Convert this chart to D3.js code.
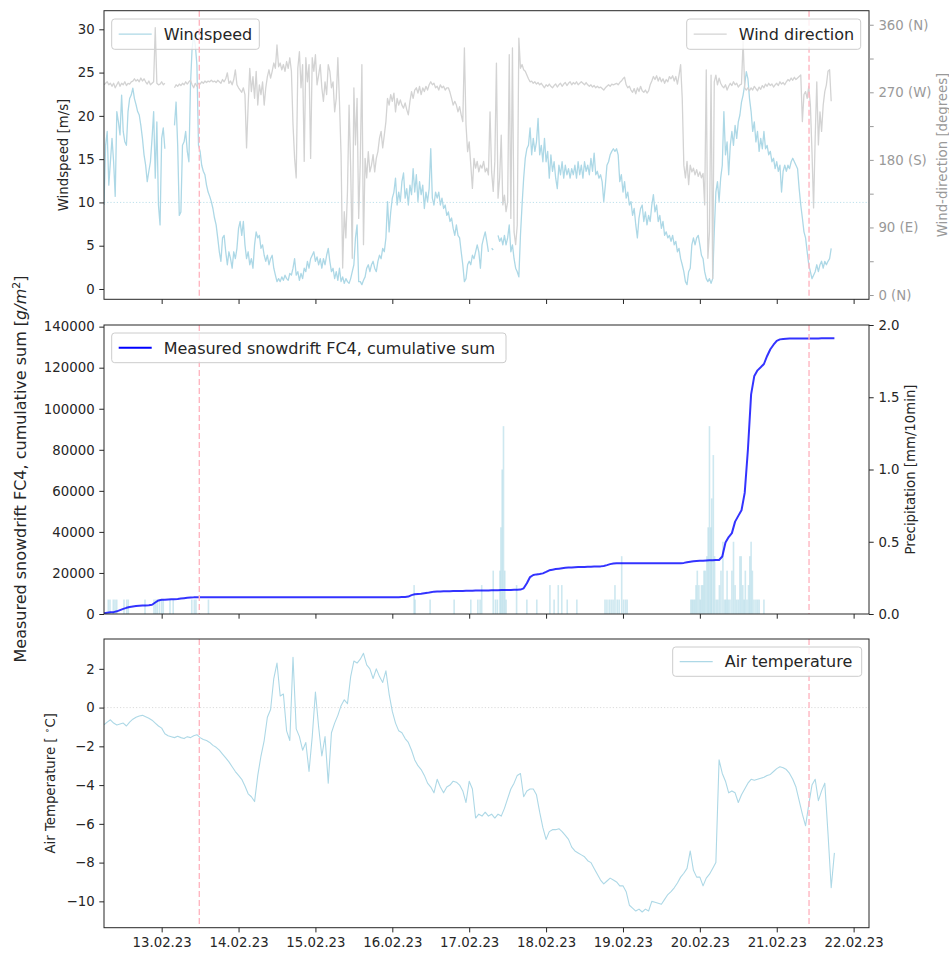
<!DOCTYPE html>
<html>
<head>
<meta charset="utf-8">
<script src="https://cdn.jsdelivr.net/npm/d3@7"></script>
<style>
  body { margin: 0; background: #fff; }
  svg { display: block; }
  text { font-family: "DejaVu Sans", sans-serif; }
</style>
</head>
<body>
<svg id="chart" width="949" height="953"></svg>
<script>
// ---------------------------------------------------------------------------
// Station record starting 12.02.2023 06:00 (null = no data)
// wind: 30-minute samples, temperature and drift: hourly samples
// ---------------------------------------------------------------------------
const seriesStart = new Date(2023, 1, 12, 6, 0);
const windStepMin = 30;
const hourlyStepMin = 60;

// wind speed [m/s], every 30 min
const windSpeed = [
  9.7, 16.6, 18.2, 12.0, 14.7, 17.4, 14.7, 10.7, 20.5, 19.3,
  17.8, 22.4, 18.2, 17.0, 16.6, 20.5, 22.0, 22.4, 23.2, 22.0,
  21.3, 20.5, 20.1, 18.9, 17.4, 15.5, 14.3, 12.4, 13.6, 14.7,
  17.4, 20.5, 12.8, 19.3, 9.7, 7.4, 17.4, 18.6, 16.2, null,
  null, null, null, null, 18.9, 21.6, 16.6, 8.5, 8.9, 16.6,
  17.0, 18.2, 15.9, 14.7, 23.6, 27.8, 29.3, 28.2, 25.9, 16.6,
  15.9, 14.3, 13.6, 13.2, 12.0, 11.2, 10.7, 10.1, 9.3, 8.2,
  7.4, 5.9, 4.3, 3.2, 5.9, 6.2, 4.3, 2.8, 4.3, 3.5,
  2.4, 4.3, 3.5, 4.7, 7.0, 7.8, 6.2, 7.8, 5.1, 3.5,
  4.3, 2.8, 3.5, 2.4, 5.1, 6.6, 5.9, 6.2, 4.7, 5.1,
  3.9, 3.2, 3.9, 2.8, 3.5, 3.9, 2.4, 1.6, 0.85, 1.2,
  0.85, 1.4, 1.0, 1.6, 1.2, 1.0, 1.8, 1.6, 2.4, 3.5,
  1.6, 2.0, 1.0, 1.8, 1.2, 2.4, 2.0, 3.2, 2.4, 3.5,
  3.9, 4.3, 3.2, 3.7, 2.8, 3.5, 2.4, 3.5, 2.8, 3.9,
  4.7, 3.2, 2.0, 2.4, 1.2, 2.0, 1.0, 2.4, 0.85, 1.4,
  0.65, 1.2, 0.85, 0.65, 1.2, 2.0, 2.8, 5.9, 7.4, 0.85,
  0.85, 0.5, 1.0, 1.4, 2.4, 2.8, 2.0, 2.8, 3.2, 2.4,
  2.0, 3.2, 3.9, 3.5, 4.7, 4.3, 5.9, 10.1, 6.6, 8.9,
  10.5, 11.2, 12.8, 9.7, 11.2, 10.1, 12.4, 13.4, 10.5, 11.6,
  9.7, 12.0, 10.9, 13.9, 11.2, 13.2, 10.1, 12.4, 10.9, 12.0,
  9.3, 11.2, 10.1, 11.6, 16.2, 10.5, 9.7, 11.2, 10.5, 11.2,
  9.7, 10.5, 9.3, 9.7, 8.5, 8.9, 7.8, 8.2, 7.0, 6.2,
  7.4, 6.2, 5.9, 4.3, 2.8, 0.85, 1.2, 2.8, 3.2, 2.8,
  3.9, 3.5, 4.3, 5.1, 4.3, 2.4, 5.1, 5.9, 6.6, 5.5,
  4.3, null, 4.7, 4.5, null, null, 6.2, 5.5, 5.9, 5.1,
  6.2, 5.1, 5.9, 7.4, 4.3, 5.1, 3.5, 2.4, 2.0, 1.4,
  6.2, 9.7, 12.8, 15.1, 16.2, 16.6, 18.6, 15.5, 17.4, 15.9,
  17.0, 19.7, 15.5, 16.6, 14.7, 17.4, 14.7, 15.9, 12.8, 15.5,
  13.6, 14.7, 12.8, 11.6, 14.3, 13.2, 14.7, 12.8, 14.3, 13.2,
  13.9, 12.8, 13.9, 13.2, 14.3, 12.8, 14.7, 13.2, 14.3, 12.8,
  14.7, 13.6, 14.3, 13.2, 15.1, 13.6, 15.7, 13.2, 13.6, 12.8,
  13.2, 12.4, 10.1, 12.0, 14.3, 14.7, 15.5, 15.9, 16.2, 15.9,
  16.2, 15.5, 12.4, 13.2, 11.2, 12.4, 10.5, 11.2, 9.7, 10.1,
  8.5, 9.3, 7.4, 5.9, 8.2, 9.3, 9.7, 7.8, 8.9, 7.4,
  8.5, 7.8, 9.7, 10.9, 8.9, 9.7, 7.8, 8.5, 7.0, 7.8,
  6.2, 6.6, 5.9, 6.2, 5.5, 6.2, 5.1, 5.5, 4.3, 4.7,
  3.5, 2.8, 2.0, 0.85, 0.5, 2.0, 2.4, 5.1, 5.9, 5.1,
  5.9, 6.2, 5.1, 3.9, 3.5, 2.0, 1.2, 0.85, 1.2, 0.65,
  1.2, 6.6, 11.2, 12.4, 10.1, 12.8, 14.3, 20.5, 15.5, 17.0,
  13.2, 16.6, 18.2, 16.6, 18.9, 17.4, 19.3, 20.1, 21.6, 22.4,
  23.6, 25.1, 24.3, 22.0, 20.5, 18.2, 19.3, 17.0, 18.2, 15.9,
  17.4, 16.2, 18.2, 16.2, 16.6, 15.5, 15.9, 14.7, 15.1, 13.9,
  14.7, 13.6, 14.3, 11.2, 13.6, 14.3, 13.6, 14.3, 13.9, 14.7,
  15.1, 14.7, 14.3, 13.9, 11.6, 9.7, 8.2, 6.6, 5.9, 4.3,
  2.8, 2.0, 1.2, 1.6, 2.0, 2.8, 2.0, 2.8, 3.2, 2.4,
  3.2, 2.8, 3.2, 3.5, 4.7
];

// wind direction [degrees], every 30 min
const windDirection = [
  280, 282, 284, 280, 282, 278, 282, 276, 280, 284,
  278, 282, 280, 284, 279, 282, 281, 284, 285, 288,
  285, 287, 284, 289, 285, 288, 284, 281, 285, 280,
  282, 284, 356, 282, 280, 281, 284, 280, 282, null,
  null, null, null, null, 276, 280, 278, 281, 279, 282,
  280, 284, 281, 284, 286, 280, 276, 282, 278, 282,
  281, 284, 282, 285, 283, 285, 284, 286, 284, 285,
  283, 286, 284, 282, 287, 284, 288, 296, 282, 285,
  280, 287, 300, 280, 276, 273, 270, 276, 267, 196,
  253, 302, 271, 291, 262, 298, 253, 280, 267, 284,
  253, 276, 291, 300, 289, 298, 309, 302, 333, 304,
  309, 300, 307, 298, 311, 302, 316, 298, 227, 182,
  156, 302, 324, 276, 307, 178, 316, 284, 307, 182,
  316, 298, 320, 280, 293, 307, 276, 258, 284, 267,
  307, 298, 276, 284, 244, 262, 316, 258, 187, 36,
  111, 76, 138, 253, 169, 49, 276, 200, 262, 102,
  178, 307, 67, 182, 156, 191, 164, 173, 187, 164,
  182, 191, 209, 218, 196, 213, 231, 262, 253, 267,
  258, 269, 244, 262, 253, 260, 253, 249, 256, 247,
  240, 258, 271, 262, 273, 276, 269, 278, 267, 276,
  271, 278, 273, 280, 284, 280, 282, 276, 278, 273,
  280, 276, 278, 273, 276, 276, 270, 262, 253, 258,
  253, 244, 251, 240, 231, 329, 227, 191, 204, 173,
  142, 182, 169, 178, 164, 173, 169, 178, 164, 169,
  160, 244, 164, 138, 178, 309, 129, 156, 213, 120,
  133, 111, 124, 320, 102, 329, 84, 67, 93, 342,
  302, 307, 300, 298, 293, 288, 284, 285, 282, 284,
  281, 283, 280, 282, 279, 276, 280, 278, 281, 278,
  276, 279, 281, 277, 280, 282, 278, 281, 283, 279,
  282, 284, 280, 283, 281, 284, 280, 282, 284, 282,
  280, 283, 280, 278, 280, 277, 279, 276, 278, 276,
  277, 275, 273, 276, 278, 280, 278, 281, 280, 281,
  282, 280, 283, 285, 288, 290, 280, 276, 278, 273,
  270, 275, 268, 276, 271, 278, 272, 270, 273, 269,
  272, 280, 285, 291, 287, 292, 285, 290, 284, 288,
  282, 287, 284, 291, 288, 292, 285, 291, 281, 293,
  307, 262, 173, 156, 178, 147, 173, 164, 169, 160,
  167, 158, 164, 156, 162, 120, 300, 49, 84, 293,
  22, 284, 293, 280, 289, 282, 278, 276, 280, 273,
  278, 282, 279, 284, 280, 282, 277, 280, 281, 338,
  276, 273, 276, 272, 276, 273, 278, 275, 272, 277,
  274, 279, 276, 281, 278, 282, 279, 281, 277, 280,
  282, 279, 284, 281, 283, 280, 284, 287, 285, 289,
  286, 290, 287, 289, 291, 293, 231, 267, 271, 262,
  278, 253, 191, 116, 209, 284, 200, 244, 218, 253,
  271, 280, 298, 300, 258
];

// air temperature [°C], hourly
const airTemperature = [
  -0.89, -0.75, -0.63, -0.8, -0.9, -0.85, -0.8, -0.95, -0.75, -0.6,
  -0.5, -0.43, -0.4, -0.47, -0.55, -0.65, -0.8, -0.95, -1.06, -1.35,
  -1.45, -1.5, -1.55, -1.48, -1.55, -1.6, -1.5, -1.55, -1.45, -1.4,
  -1.55, -1.65, -1.7, -1.8, -1.95, -2.05, -2.2, -2.4, -2.6, -2.8,
  -3.05, -3.3, -3.5, -3.7, -4.05, -4.45, -4.6, -4.85, -3.5, -2.5,
  -1.7, -0.5, -0.1, 1.5, 2.3, 0.6, 0.7, -1.2, -1.7, 2.6,
  -1.1, -1.5, -2.2, -1.8, -3.3, -1.5, 0.8, -1.0, -2.5, -1.5,
  -3.9, -1.3, -0.8, -0.4, 0.1, 0.4, 0.2, 1.6, 2.4, 2.3,
  2.5, 2.8, 2.2, 2.0, 1.5, 2.0, 1.6, 1.3, 1.9, 0.7,
  -0.2, -0.8, -1.2, -1.3, -1.6, -1.8, -2.2, -2.7, -3.0, -3.2,
  -3.5, -3.9, -4.1, -4.4, -3.7, -4.1, -4.4, -4.1, -4.0, -3.8,
  -3.85, -4.0, -4.3, -4.9, -3.8, -4.2, -5.7, -5.5, -5.6, -5.4,
  -5.6, -5.5, -5.7, -5.5, -5.6, -5.2, -4.7, -4.2, -3.9, -3.5,
  -3.4, -4.6, -4.3, -4.2, -4.2, -4.5, -5.4, -6.2, -6.8, -6.4,
  -6.3, -6.3, -6.25, -6.4, -6.6, -6.8, -7.2, -7.4, -7.5, -7.6,
  -7.7, -7.9, -8.0, -8.3, -8.6, -8.9, -9.1, -8.95, -8.8, -8.9,
  -9.0, -9.2, -9.2, -9.5, -10.2, -10.35, -10.5, -10.4, -10.55, -10.4,
  -10.5, -10.0, -10.05, -10.1, -10.15, -9.9, -9.65, -9.5, -9.3, -9.05,
  -8.75, -8.55, -8.3, -7.4, -8.4, -8.75, -8.75, -9.2, -8.8, -8.6,
  -8.3, -8.0, -2.7, -3.4, -3.8, -4.4, -4.3, -4.4, -4.9, -4.5,
  -4.2, -3.9, -3.7, -3.75, -3.7, -3.65, -3.6, -3.5, -3.45, -3.3,
  -3.15, -3.05, -3.1, -3.2, -3.4, -3.7, -4.1, -4.8, -5.5, -6.1,
  -5.0, -4.0, -3.7, -4.8, -4.3, -3.9, -6.5, -9.3, -7.5
];

// measured snowdrift FC4, cumulative sum [g/m²], hourly
const driftCumulative = [
  300, 600, 800, 900, 1300, 1900, 2500, 3000, 3400, 3700,
  3900, 4000, 4100, 4200, 4300, 4500, 5600, 6600, 6900, 7000,
  7100, 7150, 7200, 7300, 7500, 7700, 7900, 8000, 8100, 8150,
  8200, 8200, 8200, 8200, 8200, 8200, 8200, 8200, 8200, 8200,
  8200, 8200, 8200, 8200, 8200, 8200, 8200, 8200, 8200, 8200,
  8200, 8200, 8200, 8200, 8200, 8200, 8200, 8200, 8200, 8200,
  8200, 8200, 8200, 8200, 8200, 8200, 8200, 8200, 8200, 8200,
  8200, 8200, 8200, 8200, 8200, 8200, 8200, 8200, 8200, 8200,
  8200, 8200, 8200, 8200, 8200, 8200, 8200, 8200, 8200, 8200,
  8200, 8200, 8200, 8250, 8300, 8500, 9200, 9600, 9800, 9900,
  10100, 10300, 10600, 10900, 11000, 11000, 11050, 11100, 11100, 11150,
  11200, 11200, 11250, 11300, 11300, 11350, 11400, 11400, 11450, 11500,
  11500, 11550, 11600, 11600, 11650, 11700, 11700, 11750, 11800, 11800,
  11900, 12500, 15000, 18000, 19000, 19300, 19500, 19800, 20500, 21300,
  21600, 21900, 22100, 22300, 22500, 22600, 22700, 22800, 22850, 22900,
  22950, 23000, 23050, 23100, 23150, 23200, 23400, 23800, 24300, 24600,
  24700, 24700, 24700, 24700, 24700, 24700, 24700, 24700, 24700, 24700,
  24700, 24700, 24700, 24700, 24700, 24700, 24700, 24700, 24700, 24700,
  24700, 24900, 25200, 25500, 25700, 25800, 25900, 26000, 26100, 26150,
  26200, 26250, 26300, 28000, 34800, 37500, 39400, 45000, 47800, 50500,
  59000, 80000, 107000, 116000, 118700, 120200, 121800, 125700, 129000, 131200,
  133100, 133800, 134000, 134100, 134200, 134200, 134200, 134200, 134200, 134200,
  134200, 134250, 134250, 134250, 134300, 134300, 134300, 134300, 134300
];

// precipitation events: hours after series start, amount [mm/10min]
const precipHours = [
  1.34, 1.87, 2.9, 3.43, 3.97, 6.24, 7.09, 7.59, 12.8, 15.6,
  16.1, 16.6, 17.3, 18.0, 18.5, 20.6, 21.6, 27.4, 28.2, 28.7,
  32.6, 96.8, 97.1, 101.8, 109.3, 114.5, 116.7, 117.4, 117.9, 121.5,
  122.2, 122.8, 123.6, 123.9, 124.3, 124.7, 125.1, 125.5, 128.8, 132.0,
  135.1, 139.2, 140.5, 141.8, 142.9, 144.6, 147.6, 156.4, 157.0, 157.7,
  158.3, 158.9, 159.5, 160.2, 160.8, 161.6, 162.2, 162.8, 163.3, 183.2,
  183.6, 184.0, 184.4, 184.8, 185.2, 185.7, 186.1, 186.5, 186.9, 187.3,
  187.7, 188.2, 188.6, 189.0, 189.4, 189.7, 190.2, 190.6, 191.1, 191.6,
  192.1, 192.6, 193.2, 193.7, 194.1, 194.5, 194.9, 195.4, 196.0, 196.5,
  197.0, 197.5, 198.0, 198.5, 198.9, 199.4, 199.8, 200.2, 200.7, 201.2,
  201.6, 202.0, 202.4, 202.9, 203.5, 204.0, 204.5, 206.0
];
const precipMm = [
  0.1, 0.1, 0.1, 0.1, 0.1, 0.1, 0.1, 0.1, 0.1, 0.1,
  0.1, 0.1, 0.1, 0.1, 0.1, 0.1, 0.1, 0.1, 0.1, 0.1,
  0.1, 0.2, 0.1, 0.1, 0.1, 0.1, 0.1, 0.1, 0.2, 0.3,
  0.1, 0.1, 0.3, 0.6, 1.0, 1.3, 0.3, 0.1, 0.2, 0.1,
  0.1, 0.2, 0.1, 0.2, 0.2, 0.1, 0.1, 0.1, 0.1, 0.1,
  0.1, 0.1, 0.2, 0.1, 0.1, 0.4, 0.1, 0.1, 0.1, 0.1,
  0.1, 0.1, 0.1, 0.2, 0.3, 0.2, 0.1, 0.2, 0.2, 0.3,
  0.3, 0.4, 0.6, 1.3, 0.6, 0.8, 1.1, 0.4, 0.1, 0.1,
  0.2, 0.3, 0.5, 0.1, 0.1, 0.3, 0.1, 0.1, 0.3, 0.5,
  0.2, 0.1, 0.1, 0.4, 0.4, 0.2, 0.1, 0.3, 0.1, 0.2,
  0.4, 0.5, 0.3, 0.1, 0.1, 0.1, 0.1, 0.1
];

// marked events (dashed verticals)
const eventTimes = [new Date(2023, 1, 13, 11, 45), new Date(2023, 1, 21, 10, 5)];

// axis ticks
const dayTicks = d3.range(13, 23).map(d => new Date(2023, 1, d));
const speedTicks = [0, 5, 10, 15, 20, 25, 30];
const directionTicks = [0, 45, 90, 135, 180, 225, 270, 315, 360];
const directionLabels = {0: "0 (N)", 90: "90 (E)", 180: "180 (S)", 270: "270 (W)", 360: "360 (N)"};
const driftTicks = [0, 20000, 40000, 60000, 80000, 100000, 120000, 140000];
const precipTicks = [0, 0.5, 1.0, 1.5, 2.0];
const tempTicks = [-10, -8, -6, -4, -2, 0, 2];

// ---------------------------------------------------------------------------
const minuteMs = 60e3;
const timeAt = (i, stepMin) => new Date(seriesStart.getTime() + i * stepMin * minuteMs);

const svg = d3.select("#chart");
const defs = svg.append("defs");
const L = 104, R = 869;
const panels = {
  top: {y0: 10.7, y1: 299.3},
  mid: {y0: 325, y1: 614},
  bot: {y0: 639, y1: 927.7}
};
const ink = "#262626";
const tickLen = 4.7, tickPad = 4.7, tickFont = "13.3px";

const x = d3.scaleTime()
  .domain([new Date(2023, 1, 12, 6, 0), new Date(2023, 1, 22, 4, 48)])
  .range([L, R]);

const ySpeed = d3.scaleLinear().domain([-1.19, 32.15]).range([panels.top.y1, panels.top.y0]);
const yDir = d3.scaleLinear().domain([-5.7, 378.7]).range([panels.top.y1, panels.top.y0]);
const yDrift = d3.scaleLinear().domain([0, 140800]).range([panels.mid.y1, panels.mid.y0]);
const yPrecip = d3.scaleLinear().domain([0, 2]).range([panels.mid.y1, panels.mid.y0]);
const yTemp = d3.scaleLinear().domain([-11.36, 3.54]).range([panels.bot.y1, panels.bot.y0]);

Object.entries(panels).forEach(([k, p]) => {
  defs.append("clipPath").attr("id", "clip-" + k)
    .append("rect").attr("x", L).attr("y", p.y0).attr("width", R - L).attr("height", p.y1 - p.y0);
});

function styleAxis(g, color) {
  g.select(".domain").remove();
  g.selectAll(".tick line").attr("stroke", color).attr("stroke-width", 1);
  g.selectAll(".tick text").attr("fill", color).style("font-size", tickFont)
    .style("font-family", "'DejaVu Sans', sans-serif");
}

function seriesLine(yScale, stepMin) {
  return d3.line()
    .defined(d => d != null)
    .x((d, i) => x(timeAt(i, stepMin)))
    .y(d => yScale(d));
}

function hRule(yPos, color) {
  svg.append("line")
    .attr("x1", L).attr("x2", R).attr("y1", yPos).attr("y2", yPos)
    .attr("stroke", color).attr("stroke-width", 0.8)
    .attr("stroke-dasharray", "1.2,2");
}

function eventLines(p) {
  eventTimes.forEach(t => {
    svg.append("line")
      .attr("x1", x(t)).attr("x2", x(t)).attr("y1", p.y0).attr("y2", p.y1)
      .attr("stroke", "#ffb6c1").attr("stroke-width", 1.4)
      .attr("stroke-dasharray", "6,3");
  });
}

function legend(x0, y0, w, h, label, color, lw) {
  const g = svg.append("g");
  g.append("rect").attr("x", x0).attr("y", y0).attr("width", w).attr("height", h)
    .attr("rx", 3).attr("fill", "#fff").attr("fill-opacity", 0.8)
    .attr("stroke", "#cccccc").attr("stroke-width", 1);
  g.append("line").attr("x1", x0 + 7).attr("x2", x0 + 40)
    .attr("y1", y0 + h / 2).attr("y2", y0 + h / 2)
    .attr("stroke", color).attr("stroke-width", lw);
  g.append("text").attr("x", x0 + 52).attr("y", y0 + h / 2).attr("dy", "0.36em")
    .attr("fill", ink).style("font-size", "16px").text(label);
}

function frame(p) {
  svg.append("rect").attr("x", L).attr("y", p.y0).attr("width", R - L).attr("height", p.y1 - p.y0)
    .attr("fill", "none").attr("stroke", ink).attr("stroke-width", 1);
}

function xAxis(p, withLabels) {
  const g = svg.append("g").attr("transform", `translate(0,${p.y1})`)
    .call(d3.axisBottom(x).tickValues(dayTicks).tickSize(tickLen).tickPadding(tickPad)
      .tickFormat(withLabels ? d3.timeFormat("%d.%m.%y") : () => ""));
  styleAxis(g, ink);
}

function yLabel(xPos, yPos, text, size, color) {
  return svg.append("text")
    .attr("transform", `translate(${xPos},${yPos}) rotate(-90)`)
    .attr("text-anchor", "middle").attr("dy", "0.36em")
    .attr("fill", color).style("font-size", size).text(text);
}

// ---------------------------- top: wind ------------------------------------
{
  const p = panels.top;
  hRule(ySpeed(10), "#add8e6");
  svg.append("path").datum(windSpeed)
    .attr("clip-path", "url(#clip-top)")
    .attr("d", seriesLine(ySpeed, windStepMin))
    .attr("fill", "none").attr("stroke", "#add8e6").attr("stroke-width", 1.3)
    .attr("stroke-linejoin", "round");
  legend(111.7, 19, 147.6, 30.3, "Windspeed", "#add8e6", 1.3);
  svg.append("path").datum(windDirection)
    .attr("clip-path", "url(#clip-top)")
    .attr("d", seriesLine(yDir, windStepMin))
    .attr("fill", "none").attr("stroke", "#d3d3d3").attr("stroke-width", 1.3)
    .attr("stroke-linejoin", "round");
  eventLines(p);
  legend(686.7, 19, 174, 30.3, "Wind direction", "#d3d3d3", 1.3);
  frame(p);

  const gl = svg.append("g").attr("transform", `translate(${L},0)`)
    .call(d3.axisLeft(ySpeed).tickValues(speedTicks).tickSize(tickLen).tickPadding(tickPad));
  styleAxis(gl, ink);
  const gr = svg.append("g").attr("transform", `translate(${R},0)`)
    .call(d3.axisRight(yDir).tickValues(directionTicks).tickSize(tickLen).tickPadding(tickPad)
      .tickFormat(d => directionLabels[d] || ""));
  styleAxis(gr, "#999999");
  xAxis(p, false);

  yLabel(63.5, (p.y0 + p.y1) / 2, "Windspeed [m/s]", "13.3px", ink);
  yLabel(942, (p.y0 + p.y1) / 2, "Wind-direction [degrees]", "13.3px", "#999999");
}

// ---------------------------- middle: drift --------------------------------
{
  const p = panels.mid;
  const bars = precipHours.map((h, i) => ({t: timeAt(h, 60), v: precipMm[i]}));
  svg.append("g").attr("clip-path", "url(#clip-mid)")
    .selectAll("rect").data(bars).join("rect")
    .attr("x", d => x(d.t) - 0.8).attr("width", 1.6)
    .attr("y", d => yPrecip(d.v)).attr("height", d => yPrecip(0) - yPrecip(d.v))
    .attr("fill", "#add8e6").attr("fill-opacity", 0.6);
  svg.append("path").datum(driftCumulative)
    .attr("clip-path", "url(#clip-mid)")
    .attr("d", seriesLine(yDrift, hourlyStepMin))
    .attr("fill", "none").attr("stroke", "#0000ff").attr("stroke-opacity", 0.8)
    .attr("stroke-width", 2).attr("stroke-linejoin", "round");
  eventLines(p);
  legend(111.7, 333, 394.3, 29.7, "Measured snowdrift FC4, cumulative sum", "#0000ff", 2);
  frame(p);

  const gl = svg.append("g").attr("transform", `translate(${L},0)`)
    .call(d3.axisLeft(yDrift).tickValues(driftTicks).tickSize(tickLen).tickPadding(tickPad)
      .tickFormat(d3.format("d")));
  styleAxis(gl, ink);
  const gr = svg.append("g").attr("transform", `translate(${R},0)`)
    .call(d3.axisRight(yPrecip).tickValues(precipTicks).tickSize(tickLen).tickPadding(tickPad)
      .tickFormat(d3.format(".1f")));
  styleAxis(gr, ink);
  xAxis(p, false);

  yLabel(910, (p.y0 + p.y1) / 2, "Precipitation [mm/10min]", "13.3px", ink);
  const big = yLabel(20, 469, "", "16px", ink);
  big.append("tspan").text("Measured snowdrift FC4, cumulative sum [");
  big.append("tspan").style("font-style", "italic").text("g/m");
  big.append("tspan").attr("baseline-shift", "super").style("font-size", "11px").text("2");
  big.append("tspan").text("]");
}

// ---------------------------- bottom: temperature --------------------------
{
  const p = panels.bot;
  hRule(yTemp(0), "#d3d3d3");
  svg.append("path").datum(airTemperature)
    .attr("clip-path", "url(#clip-bot)")
    .attr("d", seriesLine(yTemp, hourlyStepMin))
    .attr("fill", "none").attr("stroke", "#add8e6").attr("stroke-width", 1.1)
    .attr("stroke-linejoin", "round");
  eventLines(p);
  legend(672.7, 647, 189, 29.3, "Air temperature", "#add8e6", 1.1);
  frame(p);

  const gl = svg.append("g").attr("transform", `translate(${L},0)`)
    .call(d3.axisLeft(yTemp).tickValues(tempTicks).tickSize(tickLen).tickPadding(tickPad));
  styleAxis(gl, ink);
  xAxis(p, true);

  const lab = yLabel(50, (p.y0 + p.y1) / 2, "", "13.3px", ink);
  lab.append("tspan").text("Air Temperature [ ");
  lab.append("tspan").attr("baseline-shift", "super").style("font-size", "9px").text("∘");
  lab.append("tspan").text("C]");
}
</script>
</body>
</html>
